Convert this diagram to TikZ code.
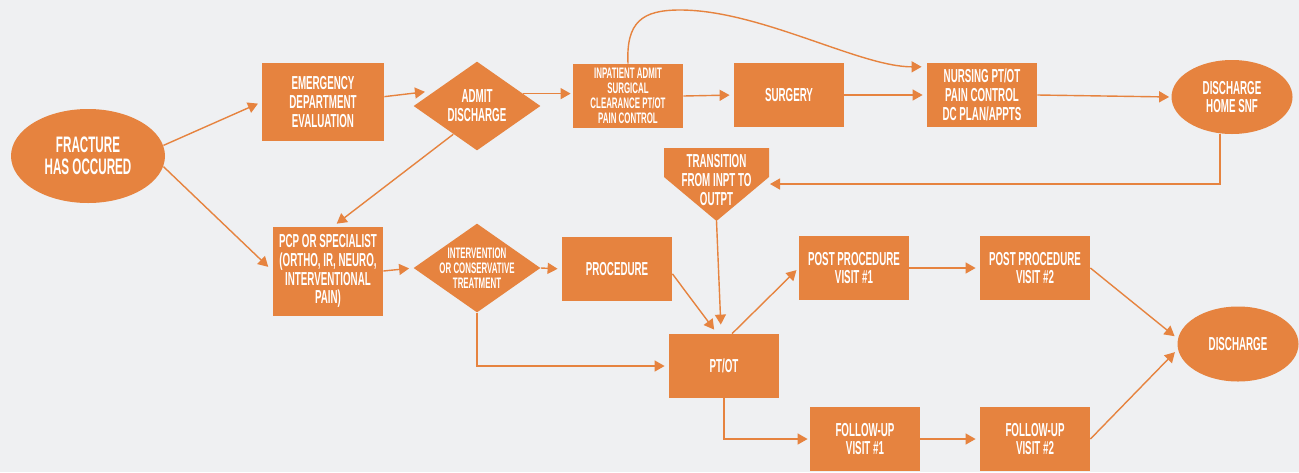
\documentclass[tikz,border=0pt]{standalone}
\usepackage{fontspec}
\setmainfont{Liberation Sans}[FakeStretch=0.52]
\usepackage{tikz}
\usetikzlibrary{arrows.meta,positioning,shapes.geometric}
\definecolor{flowor}{HTML}{E6833F}
\definecolor{paper}{HTML}{EFF0F2}

\newcommand{\midfont}{\bfseries\fontsize{9.4}{9.4}\selectfont}
\newcommand{\smlfont}{\bfseries\fontsize{7.6}{7.6}\selectfont}
\newcommand{\bigfont}{\bfseries\fontsize{11.2}{11}\selectfont}

\begin{document}
\begin{tikzpicture}[
  x=0.5pt, y=-0.5pt, line join=miter,
  >={Triangle[length=5pt,width=5.5pt]},
  stepbox/.style={fill=flowor, text=white, inner sep=0pt, align=center,
    minimum width=55pt, minimum height=32pt, font=\midfont},
  ovalbox/.style={ellipse, fill=flowor, text=white, inner sep=0pt, align=center,
    minimum width=60.5pt, minimum height=37pt, font=\midfont},
  dia/.style={diamond, fill=flowor, inner sep=0pt,
    minimum width=63.5pt, minimum height=44.5pt},
  dtext/.style={text=white, align=center, inner sep=0pt, font=\midfont},
  flow/.style={draw=flowor, line width=0.7pt, ->}]

\useasboundingbox (0,0) rectangle (1299,472);
\fill[paper] (0,0) rectangle (1299,472);

% ---- entry ---------------------------------------------------------------
\node[ovalbox, minimum width=77pt, minimum height=47pt, font=\bigfont] (frac) at (88,156)
  {FRACTURE\\HAS OCCURED};
\node[stepbox, minimum width=61pt, minimum height=39pt] (emerg) at (323,102)
  {EMERGENCY\\DEPARTMENT\\EVALUATION};
\node[stepbox, minimum height=44.5pt] (pcp) at (328,271)
  {PCP OR SPECIALIST\\(ORTHO, IR, NEURO,\\INTERVENTIONAL\\PAIN)};

% ---- inpatient row -------------------------------------------------------
\node[dia, label={[dtext]center:ADMIT\\DISCHARGE}] (admit) at (477,106) {};
\node[stepbox, font=\smlfont] (inpat) at (628,96)
  {INPATIENT ADMIT\\SURGICAL\\CLEARANCE PT/OT\\PAIN CONTROL};
\node[stepbox] (surg) at (789,95) {SURGERY};
\node[stepbox] (nurs) at (982,95) {NURSING PT/OT\\PAIN CONTROL\\DC PLAN/APPTS};
\node[ovalbox] (home) at (1232,97) {DISCHARGE\\HOME SNF};

% ---- transition ----------------------------------------------------------
\fill[flowor] (664,148) -- (769,148) -- (769,177) -- (716.5,221) -- (664,177) -- cycle;
\node[dtext] (trans) at (716.5,180) {TRANSITION\\FROM INPT TO\\OUTPT};
\coordinate (transtip) at (716.5,221);
\coordinate (transin) at (770,184);

% ---- outpatient rows -----------------------------------------------------
\node[dia, label={[dtext, font=\smlfont]center:INTERVENTION\\OR CONSERVATIVE\\TREATMENT}]
  (inter) at (477,268) {};
\node[stepbox] (proc) at (617,269) {PROCEDURE};
\node[stepbox] (ptot) at (724,366) {PT/OT};
\node[stepbox] (pp1) at (854,268) {POST PROCEDURE\\VISIT \#1};
\node[stepbox] (pp2) at (1035,268) {POST PROCEDURE\\VISIT \#2};
\node[stepbox] (fu1) at (865,439) {FOLLOW-UP\\VISIT \#1};
\node[stepbox] (fu2) at (1035,439) {FOLLOW-UP\\VISIT \#2};
\node[ovalbox, minimum height=37.5pt] (dis) at (1238,344) {DISCHARGE};

% ---- connectors ----------------------------------------------------------
\draw[flow, shorten >=2pt] (frac.8) -- (emerg.west);
\draw[flow, shorten >=3pt] (frac.-8) -- (pcp.west);
\draw[flow, shorten >=5pt] (emerg.5) -- (admit.160);
\draw[flow, shorten >=2pt] (admit.230) -- (pcp.83);
\draw[flow, shorten >=1pt] (admit.15) -- (admit.15 -| inpat.west);
\draw[flow, shorten >=2pt] (pcp.east) -- (inter.west);
\draw[flow, shorten >=2pt] (inter.east) -- (proc.west);
\draw[flow, shorten >=2pt] (inpat.east) -- (surg.west);
\draw[flow, shorten >=2pt] (surg.east) -- (nurs.west);
\draw[flow, shorten >=2.5pt] (inpat.north) .. controls (626,22) and (642,10) .. (680,10)
  .. controls (760,10) and (860,67) .. (nurs.153);
\draw[flow, shorten >=1pt] (nurs.east) -- (home.west);
\draw[flow] (home.252) |- (transin);
\draw[flow, shorten >=4.5pt] (transtip) -- (ptot.95);
\draw[flow, shorten >=2.5pt] (proc.-5) -- (ptot.102);
\draw[flow, shorten >=1.5pt] (ptot.76) -- (pp1.west);
\draw[flow, shorten >=2pt] (inter.south) |- (ptot.west);
\draw[flow, shorten >=1pt] (ptot.south) |- (fu1.west);
\draw[flow, shorten >=2pt] (pp1.east) -- (pp2.west);
\draw[flow, shorten >=2pt] (fu1.east) -- (fu2.west);
\draw[flow, shorten >=2pt] (pp2.east) -- (dis.175);
\draw[flow, shorten >=2pt] (fu2.east) -- (dis.185);

\end{tikzpicture}
\end{document}
